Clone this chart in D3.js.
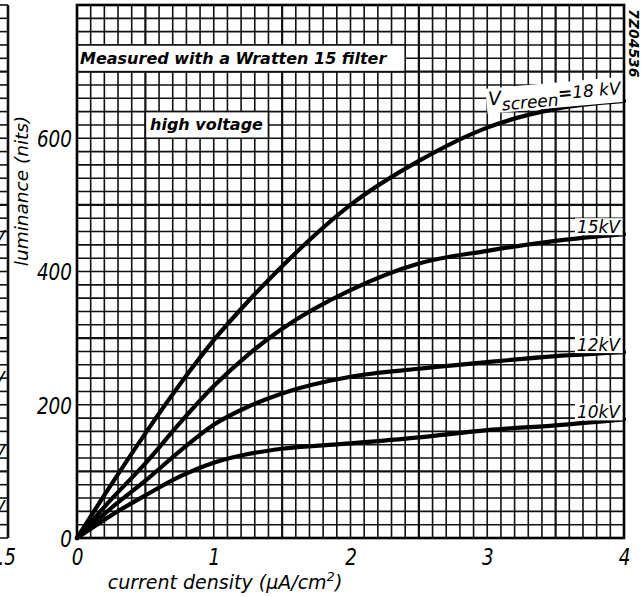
<!DOCTYPE html>
<html>
<head>
<meta charset="utf-8">
<script src="https://cdn.jsdelivr.net/npm/d3@7/dist/d3.min.js"></script>
<style>
  html, body { margin: 0; padding: 0; background: #fff; }
  svg { display: block; }
  text { font-family: "DejaVu Sans", sans-serif; font-style: italic; fill: #000; }
</style>
</head>
<body>
<svg id="chart" width="644" height="597"></svg>
<script>
// Luminance vs. current density for several screen voltages
const currentDensity = [0, 0.25, 0.5, 0.75, 1, 1.25, 1.5, 2, 2.5, 3, 3.5, 4];
const lum18kV = [0, 80, 157, 230, 297, 355, 408, 500, 566, 616, 644, 656];
const lum15kV = [0, 58, 112, 172, 228, 275, 314, 372, 412, 431, 446, 456];
const lum12kV = [0, 45, 86, 130, 170, 197, 217, 242, 254, 264, 273, 279];
const lum10kV = [0, 34, 64, 92, 113, 126, 134, 142, 151, 162, 169, 178];
const seriesLabels = ["18 kV", "15kV", "12kV", "10kV"];

const xTicks = [0, 1, 2, 3, 4];
const xTickLabels = ["0", "1", "2", "3", "4"];
const yTicks = [0, 200, 400, 600];
const yTickLabels = ["0", "200", "400", "600"];

const xTitle = "current density (\u00B5A/cm";
const yTitle = "luminance (nits)";
const noteFilter = "Measured with a Wratten 15 filter";
const noteVoltage = "high voltage";
const drawingCode = "7Z04536";

// neighbouring chart (cut off at the left edge): its curve label levels and last x tick
const neighbourLabelLevels = [452, 240, 129, 47];
const neighbourTick = "1.5";

const svg = d3.select("#chart");
const x = d3.scaleLinear().domain([0, 4]).range([77, 624]);
const y = d3.scaleLinear().domain([0, 800]).range([538, 5]);

// tall, narrow numerals like the stencil lettering
function numeral(sel, size) {
  sel.attr("font-size", size).attr("font-family", "DejaVu Sans").attr("font-style", "italic");
}

// ---- graph paper ----
const grid = svg.append("g");
const xGrid = d3.range(0, 41).map(i => i / 10);
const yGrid = d3.range(0, 41).map(i => i * 20);
grid.selectAll("line.vx").data(xGrid).join("line")
  .attr("x1", d => x(d)).attr("x2", d => x(d))
  .attr("y1", y(800)).attr("y2", y(0))
  .attr("stroke", "#111")
  .attr("stroke-width", d => (Math.round(d * 10) % 10 === 5) ? 2.2 : 1.6);
grid.selectAll("line.hy").data(yGrid).join("line")
  .attr("x1", x(0)).attr("x2", x(4))
  .attr("y1", d => y(d)).attr("y2", d => y(d))
  .attr("stroke", "#111")
  .attr("stroke-width", d => (d % 200 === 100) ? 2.2 : 1.6);

// neighbouring chart's grid edge
const nb = svg.append("g");
nb.selectAll("line").data(yGrid).join("line")
  .attr("x1", 0).attr("x2", 8)
  .attr("y1", d => y(d)).attr("y2", d => y(d))
  .attr("stroke", "#111")
  .attr("stroke-width", d => (d % 200 === 100) ? 2.2 : 1.6);
nb.append("line").attr("x1", 8).attr("x2", 8).attr("y1", y(800)).attr("y2", y(0))
  .attr("stroke", "#111").attr("stroke-width", 2.6);
neighbourLabelLevels.forEach(v => {
  nb.append("text").attr("x", 5).attr("y", y(v) + 6)
    .attr("text-anchor", "end").attr("font-size", 17).text("kV");
});
nb.append("text").attr("transform", "translate(16,565) scale(0.8,1)")
  .attr("text-anchor", "end").call(numeral, 23).text(neighbourTick);

// ---- annotation boxes cleared out of the grid ----
function noteBox(x0, x1, v0, v1, label, tx, ty) {
  svg.append("rect")
    .attr("x", x(x0)).attr("y", y(v1))
    .attr("width", x(x1) - x(x0)).attr("height", y(v0) - y(v1))
    .attr("fill", "#fff").attr("stroke", "#111").attr("stroke-width", 1.6);
  svg.append("text").attr("x", tx).attr("y", ty)
    .attr("font-size", 16).attr("font-weight", "bold").text(label);
}
noteBox(0, 2.4, 700, 740, noteFilter, 80, 64);
noteBox(0.5, 1.4, 600, 640, noteVoltage, 150, 130);

// ---- curves ----
const series = [lum18kV, lum15kV, lum12kV, lum10kV];
const line = d3.line()
  .x((d, i) => x(currentDensity[i]))
  .y(d => y(d))
  .curve(d3.curveMonotoneX);
svg.append("g").selectAll("path").data(series).join("path")
  .attr("d", d => line(d))
  .attr("fill", "none").attr("stroke", "#000")
  .attr("stroke-width", 4.2).attr("stroke-linecap", "round");

// ---- curve labels on white patches ----
function patchLabel(g, pad) {
  const b = g.node().getBBox();
  g.insert("rect", ":first-child")
    .attr("x", b.x - pad).attr("y", b.y + 1)
    .attr("width", b.width + pad * 2).attr("height", b.height - 3)
    .attr("fill", "#fff");
}

// 18 kV label, tilted along the curve
{
  const g = svg.append("g").attr("transform", "translate(621,94) rotate(-5)");
  const t = g.append("text").attr("text-anchor", "end").attr("font-size", 17);
  t.append("tspan").attr("font-size", 19).text("V");
  t.append("tspan").attr("dy", 6).text("screen");
  t.append("tspan").attr("dy", -6).attr("font-weight", "bold").text("=");
  t.append("tspan").text(seriesLabels[0]);
  patchLabel(g, 2);
}
[[lum15kV, 1], [lum12kV, 2], [lum10kV, 3]].forEach(([s, k]) => {
  const last = s[s.length - 1];
  const g = svg.append("g");
  g.append("text").attr("x", 620).attr("y", y(last) - 1)
    .attr("text-anchor", "end").attr("font-size", 17).text(seriesLabels[k]);
  patchLabel(g, 2);
});

// ---- frame ----
svg.append("rect").attr("x", x(0)).attr("y", y(800))
  .attr("width", x(4) - x(0)).attr("height", y(0) - y(800))
  .attr("fill", "none").attr("stroke", "#000").attr("stroke-width", 2.6);

// ---- axes ----
const xAxis = d3.axisBottom(x).tickValues(xTicks)
  .tickFormat((d, i) => xTickLabels[i]).tickSize(0);
const gx = svg.append("g").attr("transform", `translate(0,${y(0)})`).call(xAxis);
gx.select(".domain").remove();
gx.selectAll("text").attr("y", null).attr("dy", null)
  .attr("transform", "translate(0,27) scale(0.8,1)")
  .call(numeral, 23);

const yAxis = d3.axisLeft(y).tickValues(yTicks)
  .tickFormat((d, i) => yTickLabels[i]).tickSize(0);
const gy = svg.append("g").attr("transform", `translate(${x(0)},0)`).call(yAxis);
gy.select(".domain").remove();
gy.selectAll("text").attr("x", null).attr("dy", "0.36em")
  .attr("transform", "translate(-5,0) scale(0.8,1)")
  .call(numeral, 23);

// axis titles
const xt = svg.append("text").attr("x", 225).attr("y", 589)
  .attr("text-anchor", "middle").attr("font-size", 19);
xt.append("tspan").text(xTitle);
xt.append("tspan").attr("dy", -8).attr("font-size", 13).text("2");
xt.append("tspan").attr("dy", 8).text(")");

svg.append("text")
  .attr("transform", "translate(28,191) rotate(-90)")
  .attr("text-anchor", "middle").attr("font-size", 18.5).text(yTitle);

// drawing number, running down the right edge
svg.append("text")
  .attr("transform", "translate(629,9) rotate(90)")
  .attr("font-size", 14).attr("font-weight", "bold").attr("font-style", "normal")
  .text(drawingCode);
</script>
</body>
</html>
